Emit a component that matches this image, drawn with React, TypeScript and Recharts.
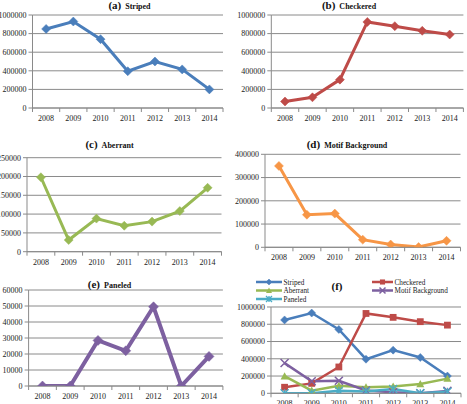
import React from 'react';
import { LineChart, Line, XAxis, YAxis, CartesianGrid } from 'recharts';

// ---------- data ----------
const years = ['2008', '2009', '2010', '2011', '2012', '2013', '2014'];
const striped = [850000, 930000, 740000, 395000, 500000, 415000, 200000];
const checkered = [70000, 115000, 305000, 925000, 880000, 830000, 790000];
const aberrant = [198000, 31000, 88000, 69000, 80000, 108000, 170000];
const motifBackground = [350000, 140000, 145000, 33000, 12000, 1000, 28000];
const paneled = [0, 0, 28500, 22000, 49500, 0, 18500];

const ticksMillion = [0, 200000, 400000, 600000, 800000, 1000000];
const ticksAberrant = [0, 50000, 100000, 150000, 200000, 250000];
const ticksMotif = [0, 100000, 200000, 300000, 400000];
const ticksPaneled = [0, 10000, 20000, 30000, 40000, 50000, 60000];

const seriesNames = {
  striped: 'Striped',
  checkered: 'Checkered',
  aberrant: 'Aberrant',
  motif: 'Motif Background',
  paneled: 'Paneled',
};

const table = years.map((y, i) => ({
  idx: i,
  year: y,
  striped: striped[i],
  checkered: checkered[i],
  aberrant: aberrant[i],
  motif: motifBackground[i],
  paneled: paneled[i],
}));

// ---------- styles ----------
const FONT = '"Liberation Serif", "Times New Roman", serif';
const AXIS = '#8a8a8a';
const GRID = '#8a8a8a';
const TEXT = '#1a1a1a';

type Kind = 'diamond' | 'square' | 'triangle' | 'x' | 'star';

function Marker({ cx, cy, kind, color, r }: { cx: number; cy: number; kind: Kind; color: string; r: number }) {
  if (cx == null || cy == null || isNaN(cx) || isNaN(cy)) return null;
  switch (kind) {
    case 'diamond':
      return <path d={`M${cx},${cy - r}L${cx + r},${cy}L${cx},${cy + r}L${cx - r},${cy}Z`} fill={color} stroke={color} strokeWidth={0.5} />;
    case 'square':
      return <rect x={cx - r * 0.85} y={cy - r * 0.85} width={r * 1.7} height={r * 1.7} fill={color} />;
    case 'triangle':
      return <path d={`M${cx},${cy - r}L${cx + r},${cy + r * 0.8}L${cx - r},${cy + r * 0.8}Z`} fill={color} />;
    case 'x':
      return <path d={`M${cx - r},${cy - r}L${cx + r},${cy + r}M${cx - r},${cy + r}L${cx + r},${cy - r}`} stroke={color} strokeWidth={1.5} fill="none" />;
    case 'star':
      return <path d={`M${cx - r},${cy - r}L${cx + r},${cy + r}M${cx - r},${cy + r}L${cx + r},${cy - r}M${cx},${cy - r}L${cx},${cy + r}`} stroke={color} strokeWidth={1.3} fill="none" />;
  }
  return null;
}

const makeXTick = (step: number, last: number) => (props: any) => {
  const { x, y, payload, index } = props;
  return (
    <g key={`xt-${index}`}>
      <line x1={x - step / 2} x2={x - step / 2} y1={y} y2={y + 4} stroke={AXIS} />
      {payload.value === last && <line x1={x + step / 2} x2={x + step / 2} y1={y} y2={y + 4} stroke={AXIS} />}
      <text x={x} y={y + 13} textAnchor="middle" fontSize={8} fontFamily={FONT} fill={TEXT} style={{ fill: TEXT }}>
        {years[payload.value]}
      </text>
    </g>
  );
};

type SeriesStyle = { key: keyof typeof seriesNames; color: string; kind: Kind; r: number; sw: number };

type Panel = {
  id: string;
  L: number; T: number; W: number;
  x0: number; x1: number; y0: number; y1: number;
  max: number; ticks: number[];
  series: SeriesStyle[];
};

const BLUE = '#4A7EBB';
const RED = '#BE4B48';
const GREEN = '#98B954';
const ORANGE = '#F79646';
const PURPLE = '#7D60A0';
const CYAN = '#4BACC6';

const panels: Panel[] = [
  { id: 'a', L: 0, T: 0, W: 234, x0: 32.5, x1: 223, y0: 15, y1: 108, max: 1000000, ticks: ticksMillion,
    series: [{ key: 'striped', color: BLUE, kind: 'diamond', r: 4.5, sw: 3 }] },
  { id: 'b', L: 234, T: 0, W: 233, x0: 271.3, x1: 463.4, y0: 15, y1: 108, max: 1000000, ticks: ticksMillion,
    series: [{ key: 'checkered', color: RED, kind: 'diamond', r: 4.5, sw: 3 }] },
  { id: 'c', L: 0, T: 135, W: 234, x0: 27, x1: 221.5, y0: 157.7, y1: 251.7, max: 250000, ticks: ticksAberrant,
    series: [{ key: 'aberrant', color: GREEN, kind: 'diamond', r: 4.5, sw: 3 }] },
  { id: 'd', L: 234, T: 135, W: 233, x0: 265, x1: 460.5, y0: 154.3, y1: 247.3, max: 400000, ticks: ticksMotif,
    series: [{ key: 'motif', color: ORANGE, kind: 'diamond', r: 4.5, sw: 3 }] },
  { id: 'e', L: 0, T: 270, W: 234, x0: 28.6, x1: 222.9, y0: 290, y1: 386, max: 60000, ticks: ticksPaneled,
    series: [{ key: 'paneled', color: PURPLE, kind: 'diamond', r: 5, sw: 4 }] },
  { id: 'f', L: 234, T: 270, W: 233, x0: 271, x1: 461, y0: 307, y1: 393.3, max: 1000000, ticks: ticksMillion,
    series: [
      { key: 'striped', color: BLUE, kind: 'diamond', r: 4, sw: 2.5 },
      { key: 'checkered', color: RED, kind: 'square', r: 4, sw: 2.5 },
      { key: 'aberrant', color: GREEN, kind: 'triangle', r: 4, sw: 2.5 },
      { key: 'motif', color: PURPLE, kind: 'x', r: 4, sw: 2.5 },
      { key: 'paneled', color: CYAN, kind: 'star', r: 4, sw: 2.5 },
    ] },
];

const titles = [
  { letter: '(a)', name: seriesNames.striped, cx: 129.5, by: 9 },
  { letter: '(b)', name: seriesNames.checkered, cx: 349, by: 9 },
  { letter: '(c)', name: seriesNames.aberrant, cx: 109.5, by: 148 },
  { letter: '(d)', name: seriesNames.motif, cx: 347, by: 148 },
  { letter: '(e)', name: seriesNames.paneled, cx: 109.5, by: 288 },
  { letter: '(f)', name: '', cx: 337, by: 290 },
];

const legendLayout = [
  { key: 'striped', x: 256, y: 282 },
  { key: 'checkered', x: 372, y: 282 },
  { key: 'aberrant', x: 256, y: 290.5 },
  { key: 'motif', x: 372, y: 290.5 },
  { key: 'paneled', x: 256, y: 299 },
];

function PanelChart({ p }: { p: Panel }) {
  const step = (p.x1 - p.x0) / years.length;
  const H = p.y1 - p.T + 22;
  return (
    <div style={{ position: 'absolute', left: p.L, top: p.T }}>
      <LineChart
        width={p.W}
        height={H}
        data={table}
        margin={{ top: p.y0 - p.T, right: p.L + p.W - p.x1, bottom: 0, left: 0 }}
      >
        <CartesianGrid horizontal vertical={false} stroke={GRID} strokeWidth={1} />
        <XAxis
          type="number"
          dataKey="idx"
          domain={[-0.5, years.length - 0.5]}
          ticks={years.map((_, i) => i)}
          interval={0}
          height={22}
          tickSize={0}
          tickMargin={0}
          tickLine={false}
          axisLine={{ stroke: AXIS }}
          tick={makeXTick(step, years.length - 1)}
          allowDataOverflow
        />
        <YAxis
          type="number"
          domain={[0, p.max]}
          ticks={p.ticks}
          interval={0}
          width={p.x0 - p.L}
          tickSize={4}
          tickMargin={2}
          tickLine={{ stroke: AXIS }}
          axisLine={{ stroke: AXIS }}
          tick={{ fontSize: 8, fill: TEXT, fontFamily: FONT }}
          tickFormatter={(v: number) => String(v)}
          allowDataOverflow
        />
        {p.series.map((s) => (
          <Line
            key={s.key}
            type="linear"
            dataKey={s.key}
            name={seriesNames[s.key]}
            stroke={s.color}
            strokeWidth={s.sw}
            isAnimationActive={false}
            dot={(dp: any) => (
              <Marker key={`${s.key}-${dp.index}`} cx={dp.cx} cy={dp.cy} kind={s.kind} color={s.color} r={s.r} />
            )}
            activeDot={false}
          />
        ))}
      </LineChart>
    </div>
  );
}

export default function App() {
  const fPanel = panels[5];
  return (
    <div style={{ position: 'absolute', left: 0, top: 0, width: 467, height: 404, overflow: 'hidden', background: '#fff' }}>
      {panels.map((p) => (
        <PanelChart key={p.id} p={p} />
      ))}
      <svg width={467} height={404} style={{ position: 'absolute', left: 0, top: 0, pointerEvents: 'none' }}>
        {titles.map((t) => (
          <text key={t.letter} x={t.cx} y={t.by} textAnchor="middle" fontFamily={FONT} fontWeight="bold" fill="#111">
            <tspan fontSize={11}>{t.letter}</tspan>
            {t.name && <tspan fontSize={8} dx={4}>{t.name}</tspan>}
          </text>
        ))}
        {legendLayout.map((l) => {
          const s = fPanel.series.find((ss) => ss.key === l.key)!;
          const len = l.key === 'checkered' || l.key === 'motif' ? 21 : 26;
          return (
            <g key={l.key}>
              <line x1={l.x} x2={l.x + len} y1={l.y} y2={l.y} stroke={s.color} strokeWidth={2.5} />
              <Marker cx={l.x + len / 2} cy={l.y} kind={s.kind} color={s.color} r={3} />
              <text x={l.x + len + 1.5} y={l.y + 2.5} fontSize={7.2} fontFamily={FONT} fill={TEXT}>
                {seriesNames[l.key as keyof typeof seriesNames]}
              </text>
            </g>
          );
        })}
      </svg>
    </div>
  );
}
